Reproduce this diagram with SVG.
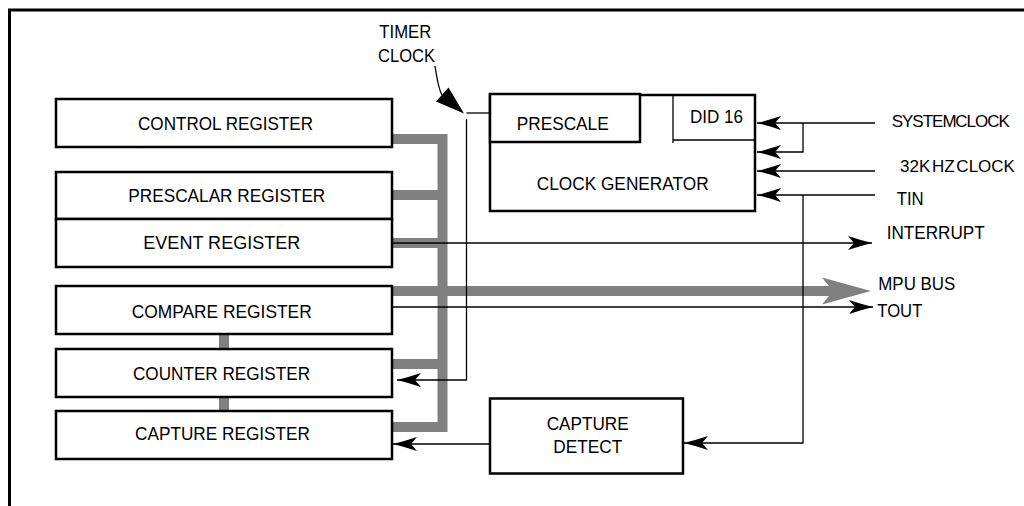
<svg xmlns="http://www.w3.org/2000/svg" width="1024" height="506" viewBox="0 0 1024 506">
<style>
.box{fill:#fff;stroke:#000;stroke-width:2.5}
.thin{fill:none;stroke:#000;stroke-width:1.3}
.bus{fill:none;stroke:#808080;stroke-width:10;stroke-linejoin:miter}
text{font-family:"Liberation Sans",Arial,sans-serif;font-size:18px;fill:#000}
.edge{font-size:17px}
</style>
<defs>
<marker id="ah" viewBox="0 -8 26 16" markerWidth="26" markerHeight="16" refX="24" refY="0" markerUnits="userSpaceOnUse" orient="auto">
<path d="M24,0 Q12,-3 0,-7 L6,0 L0,7 Q12,3 24,0 Z" fill="#000"/>
</marker>
</defs>
<rect width="1024" height="506" fill="#fff"/>
<path d="M9.5,506 V10 H1024" fill="none" stroke="#000" stroke-width="3"/>

<g id="connectors">
<path class="bus" d="M392,139 H442.5 V427 H392"/>
<path class="bus" d="M391,195 H442.5"/>
<path class="bus" d="M392,243 H442.5"/>
<path class="bus" d="M392,364 H442.5"/>
<path class="bus" d="M224,334 V349 M224,397 V411"/>
<path class="bus" d="M392,291 H834"/>
<polygon points="871,291 822,277.5 833,291 822,304.5" fill="#808080"/>
<path class="thin" d="M490,113 H466.5"/>
<path class="thin" d="M466.5,119 V380 H397" marker-end="url(#ah)"/>
<path class="thin" d="M392,243 H872" marker-end="url(#ah)"/>
<path class="thin" d="M392,307 H873" marker-end="url(#ah)"/>
<path class="thin" d="M875,123 H757" marker-end="url(#ah)"/>
<path class="thin" d="M803,123 V152 H757" marker-end="url(#ah)"/>
<path class="thin" d="M875,171 H757" marker-end="url(#ah)"/>
<path class="thin" d="M875,195 H757" marker-end="url(#ah)"/>
<path class="thin" d="M803,195 V443 H684" marker-end="url(#ah)"/>
<path class="thin" d="M490,444 H393" marker-end="url(#ah)"/>
<path class="thin" d="M435,66 C437,78 438,88 442,95"/>
<polygon points="464,113.5 436,101.5 448.5,87.5" fill="#000"/>
</g>

<g id="control-register">
<rect class="box" x="56" y="99" width="336" height="48"/>
<text x="138" y="130" textLength="175" lengthAdjust="spacingAndGlyphs">CONTROL REGISTER</text>
</g>
<g id="prescalar-register">
<rect class="box" x="56" y="172" width="336" height="47"/>
<text x="128.3" y="201.7" textLength="197" lengthAdjust="spacingAndGlyphs">PRESCALAR REGISTER</text>
</g>
<g id="event-register">
<rect class="box" x="56" y="219" width="336" height="48"/>
<text x="143.3" y="249.3" textLength="157" lengthAdjust="spacingAndGlyphs">EVENT REGISTER</text>
</g>
<g id="compare-register">
<rect class="box" x="56" y="286" width="336" height="48"/>
<text x="131.7" y="318.3" textLength="180" lengthAdjust="spacingAndGlyphs">COMPARE REGISTER</text>
</g>
<g id="counter-register">
<rect class="box" x="56" y="349" width="336" height="48"/>
<text x="133" y="380" textLength="177" lengthAdjust="spacingAndGlyphs">COUNTER REGISTER</text>
</g>
<g id="capture-register">
<rect class="box" x="56" y="411" width="336" height="48"/>
<text x="135" y="440" textLength="175" lengthAdjust="spacingAndGlyphs">CAPTURE REGISTER</text>
</g>

<g id="clock-generator">
<rect class="box" x="490" y="95" width="265" height="116"/>
<rect class="box" x="490" y="94" width="150" height="48"/>
<path class="thin" d="M673,96 V143 M673,140 H755"/>
<text x="516.7" y="130" textLength="92" lengthAdjust="spacingAndGlyphs">PRESCALE</text>
<text x="690" y="123.3" textLength="53" lengthAdjust="spacingAndGlyphs">DID 16</text>
<text x="536.7" y="190" textLength="172" lengthAdjust="spacingAndGlyphs">CLOCK GENERATOR</text>
</g>

<g id="capture-detect">
<rect class="box" x="490" y="398.5" width="193" height="75"/>
<text x="546.7" y="430" textLength="82" lengthAdjust="spacingAndGlyphs">CAPTURE</text>
<text x="553.3" y="453.3" textLength="69" lengthAdjust="spacingAndGlyphs">DETECT</text>
</g>

<g id="labels">
<text x="379.3" y="38.3" textLength="52" lengthAdjust="spacingAndGlyphs">TIMER</text>
<text x="378" y="61.7" textLength="57" lengthAdjust="spacingAndGlyphs">CLOCK</text>
<text class="edge" x="891.7" y="126.7" word-spacing="-4" letter-spacing="-1">SYSTEM CLOCK</text>
<text class="edge" x="900" y="171.7" word-spacing="-3">32K HZ CLOCK</text>
<text x="896.7" y="205" textLength="27" lengthAdjust="spacingAndGlyphs">TIN</text>
<text x="886.7" y="239.3" textLength="98" lengthAdjust="spacingAndGlyphs">INTERRUPT</text>
<text x="878.3" y="290" textLength="77" lengthAdjust="spacingAndGlyphs">MPU BUS</text>
<text x="877.3" y="316.7" textLength="45" lengthAdjust="spacingAndGlyphs">TOUT</text>
</g>
</svg>
